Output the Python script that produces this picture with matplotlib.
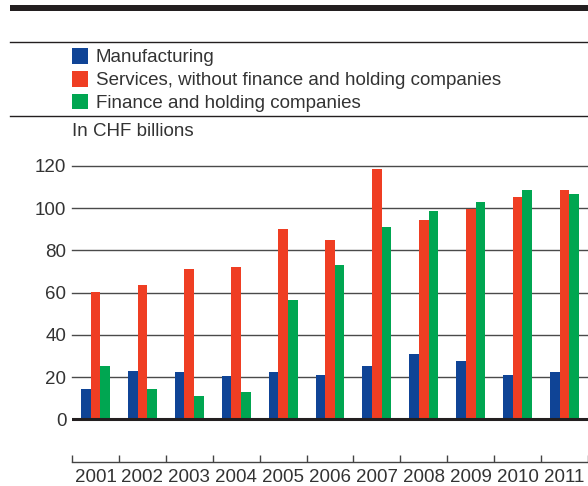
import numpy as np
import matplotlib
matplotlib.use("Agg")
import matplotlib.pyplot as plt
from matplotlib.patches import Rectangle
from matplotlib.lines import Line2D

# --- Datos (en miles de millones de CHF)
years = ["2001", "2002", "2003", "2004", "2005", "2006",
         "2007", "2008", "2009", "2010", "2011"]
manufacturing = [14.4, 22.9, 22.4, 20.5, 22.4, 21.0, 25.3, 30.9, 27.6, 21.0, 22.4]
services = [60.3, 63.6, 71.2, 72.2, 90.2, 85.0, 118.6, 94.4, 99.6, 105.3, 108.6]
finance = [25.3, 14.4, 11.1, 12.9, 56.5, 73.1, 91.1, 98.7, 103.0, 108.6, 106.7]

labels = ["Manufacturing",
          "Services, without finance and holding companies",
          "Finance and holding companies"]
colors = ["#0f4496", "#ef3e23", "#00a651"]
yticks = [0, 20, 40, 60, 80, 100, 120]

plt.rcParams["font.family"] = ["Liberation Sans", "DejaVu Sans"]
txt_color = "#333333"
fs = 13.5

W, H = 588, 486
fig = plt.figure(figsize=(W / 100, H / 100), dpi=100)

def fx(px):
    return px / W

def fy(py):
    return 1 - py / H

# --- Cabecera: barra gruesa y líneas finas
fig.add_artist(Rectangle((fx(10), fy(11)), fx(588) - fx(10), fy(5) - fy(11),
                         transform=fig.transFigure, color="#231f20", lw=0))
for py in (42.3, 116):
    fig.add_artist(Line2D([fx(10), fx(588)], [fy(py), fy(py)],
                          transform=fig.transFigure, color="#231f20", lw=1.0))

# --- Leyenda manual
for i, (lab, c) in enumerate(zip(labels, colors)):
    cy = 56 + i * 22.7
    fig.add_artist(Rectangle((fx(72), fy(cy + 7.8)), fx(16), fy(0) - fy(15.6),
                             transform=fig.transFigure, color=c, lw=0))
    fig.text(fx(96), fy(cy + 2), lab, fontsize=fs, color=txt_color,
             va="center", ha="left")

fig.text(fx(72), fy(132), "In CHF billions", fontsize=fs, color=txt_color,
         va="center", ha="left")

# --- Gráfico de barras
ax = fig.add_axes([fx(72), fy(461.7), fx(588) - fx(72), fy(166) - fy(461.7)])
x = np.arange(len(years))
bw = 0.205
ax.bar(x - bw, manufacturing, bw, color=colors[0], zorder=3)
ax.bar(x, services, bw, color=colors[1], zorder=3)
ax.bar(x + bw, finance, bw, color=colors[2], zorder=3)

ax.set_xlim(-0.5, (588 - 95.7) / 47.36)
ax.set_ylim(-20, 120)

for v in yticks[1:]:
    ax.axhline(v, color="#4a4a4a", lw=1.0, zorder=1, clip_on=False)
ax.axhline(0, color="#231f20", lw=2.2, zorder=4)

for s in ("top", "right", "left"):
    ax.spines[s].set_visible(False)
ax.spines["bottom"].set_color("#444444")
ax.spines["bottom"].set_linewidth(1.0)

ax.set_yticks(yticks)
ax.set_yticklabels([str(v) for v in yticks])
ax.tick_params(axis="y", length=0, pad=4, labelsize=fs, labelcolor=txt_color)

ax.set_xticks(np.arange(-0.5, len(years), 1.0))
ax.set_xticklabels([])
ax.tick_params(axis="x", which="major", direction="in", length=5,
               width=1.0, color="#444444")
ax.set_xticks(x, minor=True)
ax.set_xticklabels(years, minor=True)
ax.tick_params(axis="x", which="minor", length=0, pad=5, labelsize=fs,
               labelcolor=txt_color)

fig.savefig("out.png", dpi=100)
